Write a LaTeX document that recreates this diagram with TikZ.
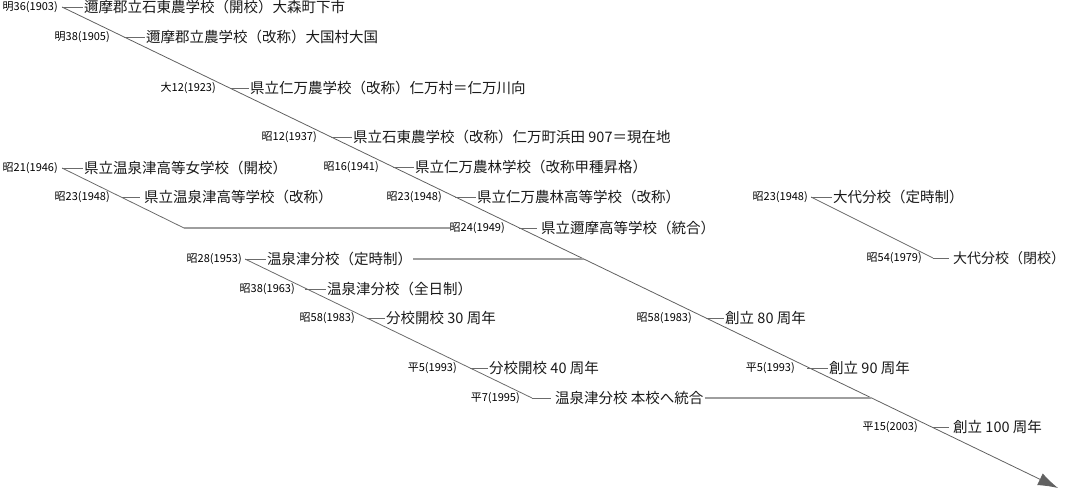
\documentclass[tikz,border=0pt]{standalone}
\usepackage{fontspec}
\newfontfamily\jp{Noto Sans CJK JP}
\usetikzlibrary{positioning,arrows.meta}
\colorlet{ecol}{black!58!white}
\colorlet{hcol}{black!38!white}
\tikzstyle{year}=[font=\jp\fontsize{11}{12}\selectfont, text=black, inner sep=0pt]
\tikzstyle{event}=[font=\jp\fontsize{14.5}{16}\selectfont, text=black!90, inner xsep=1pt, inner ysep=3pt]
\tikzstyle{edge}=[line width=0.8pt,ecol]
\tikzstyle{tick}=[edge, shorten >=3pt]
\tikzstyle{link}=[line width=1.4pt,hcol]

\begin{document}
\begin{tikzpicture}[x=1pt,y=-1pt]
			\useasboundingbox (0,0) rectangle (1066,491);

			% Main line
			\coordinate (m0) at (62,7);
			\coordinate (m1) at (124,37);
			\coordinate (m2) at (230,88);
			\coordinate (m3) at (331,137);
			\coordinate (m4) at (393,167);
			\coordinate (m5) at (455,197);
			\coordinate (m6) at (519,228);
			\coordinate (m7) at (584,259);
			\coordinate (m8) at (706,318);
			\coordinate (m9) at (807,368);
			\coordinate (m10) at (871,398);
			\coordinate (m11) at (932,427);
			\coordinate (mend) at (1058,488);
			% Onsentsu girls school
			\coordinate (a0) at (62,168);
			\coordinate (a1) at (122,197);
			\coordinate (a2) at (184,228);
			% Onsentsu branch
			\coordinate (b0) at (245,259);
			\coordinate (b1) at (305,289);
			\coordinate (b2) at (367,318);
			\coordinate (b3) at (470,368);
			\coordinate (b4) at (532,398);
			% Ooshiro branch
			\coordinate (c0) at (811,197);
			\coordinate (c1) at (933,258);

			\draw[edge, -{Latex[length=20pt,width=13pt]}, draw=black!62] (m0) -- (mend);
			\draw[edge] (a0) -- (a2);
			\draw[edge] (b0) -- (b4);
			\draw[edge] (c0) -- (c1);

			% Years
			\node[year, left=4pt of m0] (y0) {明36(1903)};
			\node[year, left=14pt of m1] (y1) {明38(1905)};
			\node[year, left=14pt of m2] (y2) {大12(1923)};
			\node[year, left=14pt of m3] (y3) {昭12(1937)};
			\node[year, left=14pt of m4] (y4) {昭16(1941)};
			\node[year, left=13pt of m5] (y5) {昭23(1948)};
			\node[year, left=14pt of m6] (y6) {昭24(1949)};
			\node[year, left=14pt of m8] (y8) {昭58(1983)};
			\node[year, left=12pt of m9] (y9) {平5(1993)};
			\node[year, left=14pt of m11] (y11) {平15(2003)};
			\node[year, left=4pt of a0] (ya0) {昭21(1946)};
			\node[year, left=12pt of a1] (ya1) {昭23(1948)};
			\node[year, left=3pt of b0] (yb0) {昭28(1953)};
			\node[year, left=10pt of b1] (yb1) {昭38(1963)};
			\node[year, left=12pt of b2] (yb2) {昭58(1983)};
			\node[year, left=13pt of b3] (yb3) {平5(1993)};
			\node[year, left=12pt of b4] (yb4) {平7(1995)};
			\node[year, left=3pt of c0] (yc0) {昭23(1948)};
			\node[year, left=11pt of c1] (yc1) {昭54(1979)};

			% Events
			\node[event, right=21pt of m0] (t0) {邇摩郡立石東農学校（開校）大森町下市};
			\node[event, right=21pt of m1] (t1) {邇摩郡立農学校（改称）大国村大国};
			\node[event, right=19pt of m2] (t2) {県立仁万農学校（改称）仁万村＝仁万川向};
			\node[event, right=21pt of m3] (t3) {県立石東農学校（改称）仁万町浜田 907＝現在地};
			\node[event, right=21pt of m4] (t4) {県立仁万農林学校（改称甲種昇格）};
			\node[event, right=21pt of m5] (t5) {県立仁万農林高等学校（改称）};
			\node[event, right=21pt of m6] (t6) {県立邇摩高等学校（統合）};
			\node[event, right=18pt of m8] (t8) {創立 80 周年};
			\node[event, right=21pt of m9] (t9) {創立 90 周年};
			\node[event, right=20pt of m11] (t11) {創立 100 周年};
			\node[event, right=21pt of a0] (ta0) {県立温泉津高等女学校（開校）};
			\node[event, right=21pt of a1] (ta1) {県立温泉津高等学校（改称）};
			\node[event, right=21pt of b0] (tb0) {温泉津分校（定時制）};
			\node[event, right=21pt of b1] (tb1) {温泉津分校（全日制）};
			\node[event, right=18pt of b2] (tb2) {分校開校 30 周年};
			\node[event, right=18pt of b3] (tb3) {分校開校 40 周年};
			\node[event, right=22pt of b4] (tb4) {温泉津分校 本校へ統合};
			\node[event, right=21pt of c0] (tc0) {大代分校（定時制）};
			\node[event, right=19pt of c1, font=\jp\fontsize{14}{16}\selectfont] (tc1) {大代分校（閉校）};

			% Ticks
			\draw[tick] (m0)--(t0) (m1)--(t1) (m2)--(t2) (m3)--(t3) (m4)--(t4) (m5)--(t5) (m6)--(t6);
			\draw[tick] (m8)--(t8) (m9)--(t9) (m11)--(t11);
			\draw[tick] (a0)--(ta0) (a1)--(ta1);
			\draw[tick] (b0)--(tb0) (b1)--(tb1) (b2)--(tb2) (b3)--(tb3) (b4)--(tb4);
			\draw[tick] (c0)--(tc0) (c1)--(tc1);
			% Joins
			\draw[link] (a2) -- (y6);
			\draw[link] (tb0) -- (m7);
			\draw[link] (tb4) -- (m10);
		\end{tikzpicture}
\end{document}
